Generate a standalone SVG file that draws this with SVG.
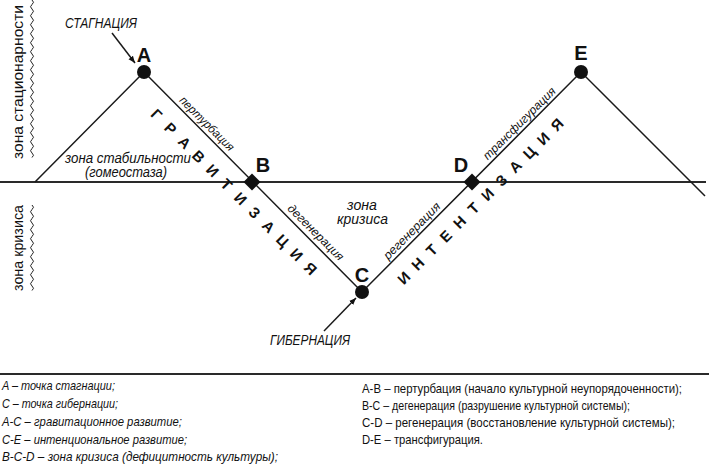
<svg xmlns="http://www.w3.org/2000/svg" width="709" height="465" viewBox="0 0 709 465">
<style>
text{font-family:"Liberation Sans",Arial,sans-serif;fill:#111}
.ln{stroke:#1a1a1a;stroke-width:1.5;fill:none}
.hz{stroke:#2a2a2a;stroke-width:2;fill:none}
.wv{stroke:#222;stroke-width:1;fill:none}
.pt{font-size:20px;font-weight:bold;text-anchor:middle}
.it{font-style:italic}
.sm{font-size:12px;font-style:italic}
.big{font-size:15px;font-weight:bold;text-anchor:middle}
.lg{font-size:13px}
.dot{fill:#111}
</style>
<defs>
<marker id="ah" viewBox="0 0 10 10" refX="10" refY="5" markerWidth="7" markerHeight="7" orient="auto" markerUnits="userSpaceOnUse">
<path d="M0,1 L10,5 L0,9 z" fill="#111"/>
</marker>
</defs>
<rect width="709" height="465" fill="#fff"/>

<g id="connectors">
<line class="hz" x1="0" y1="182" x2="706" y2="182"/>
<polyline class="ln" points="35,182 144,72 362,292 581,72 705,196"/>
<line class="ln" x1="112" y1="33" x2="135" y2="63" marker-end="url(#ah)" stroke-width="1"/>
<line class="ln" x1="324" y1="331" x2="356" y2="298" marker-end="url(#ah)" stroke-width="1"/>
<line class="hz" x1="0" y1="374" x2="709" y2="374"/>
</g>

<g id="zones">
<path class="wv" d="M32,0 q3,2.25 0,4.5 t0,4.5 t0,4.5 t0,4.5 t0,4.5 t0,4.5 t0,4.5 t0,4.5 t0,4.5 t0,4.5 t0,4.5 t0,4.5 t0,4.5 t0,4.5 t0,4.5 t0,4.5 t0,4.5 t0,4.5 t0,4.5 t0,4.5 t0,4.5 t0,4.5 t0,4.5 t0,4.5 t0,4.5 t0,4.5 t0,4.5 t0,4.5 t0,4.5 t0,4.5 t0,4.5 t0,4.5 t0,4.5 t0,4.5 t0,4.5"/>
<path class="wv" d="M32,205 q3,2.25 0,4.5 t0,4.5 t0,4.5 t0,4.5 t0,4.5 t0,4.5 t0,4.5 t0,4.5 t0,4.5 t0,4.5 t0,4.5 t0,4.5 t0,4.5 t0,4.5 t0,4.5 t0,4.5 t0,4.5 t0,4.5 t0,4.5"/>
<text transform="translate(23,159) rotate(-90)" font-size="15" textLength="154" lengthAdjust="spacingAndGlyphs">зона стационарности</text>
<text transform="translate(23,291) rotate(-90)" font-size="14" textLength="86" lengthAdjust="spacingAndGlyphs">зона кризиса</text>
<text class="it" x="65" y="163" font-size="14" textLength="126" lengthAdjust="spacingAndGlyphs">зона стабильности</text>
<text class="it" x="85" y="177" font-size="14" textLength="82" lengthAdjust="spacingAndGlyphs">(гомеостаза)</text>
<text class="it" x="347" y="210" font-size="14" textLength="30" lengthAdjust="spacingAndGlyphs">зона</text>
<text class="it" x="337" y="224" font-size="14" textLength="51" lengthAdjust="spacingAndGlyphs">кризиса</text>
<text class="it" x="65" y="28" font-size="14" textLength="72" lengthAdjust="spacingAndGlyphs">СТАГНАЦИЯ</text>
<text class="it" x="270" y="345" font-size="14" textLength="80" lengthAdjust="spacingAndGlyphs">ГИБЕРНАЦИЯ</text>
</g>

<g id="gravitization" transform="translate(144,72) rotate(45)">
<text class="sm" x="45" y="-4" textLength="72" lengthAdjust="spacingAndGlyphs">пертурбация</text>
<text class="sm" x="198" y="-4" textLength="74" lengthAdjust="spacingAndGlyphs">дегенерация</text>
<text class="big" x="39 58.8 78.6 98.4 118.2 138 157.8 177.6 197.4 217.2 237 256.8" y="26.5">ГРАВИТИЗАЦИЯ</text>
</g>

<g id="intentization" transform="translate(362,292) rotate(-45)">
<text class="sm" x="41" y="-4" textLength="75" lengthAdjust="spacingAndGlyphs">регенерация</text>
<text class="sm" x="182" y="-4" textLength="97" lengthAdjust="spacingAndGlyphs">трансфигурация</text>
<text class="big" x="39.6 59.3 79 98.7 118.4 138.1 157.8 177.5 197.2 216.9 236.6 256.3" y="25">ИНТЕНТИЗАЦИЯ</text>
</g>

<g id="nodeA"><circle class="dot" cx="144" cy="72" r="7"/><text class="pt" x="144" y="62">A</text></g>
<g id="nodeB"><rect class="dot" x="246" y="176" width="12" height="12" transform="rotate(45 252 182)"/><text class="pt" x="263" y="172">B</text></g>
<g id="nodeC"><circle class="dot" cx="362" cy="292" r="7"/><text class="pt" x="362" y="282">C</text></g>
<g id="nodeD"><rect class="dot" x="466" y="176" width="12" height="12" transform="rotate(45 472 182)"/><text class="pt" x="461" y="172">D</text></g>
<g id="nodeE"><circle class="dot" cx="581" cy="72" r="7"/><text class="pt" x="581" y="60">E</text></g>

<g id="legend-left" class="lg it">
<text x="2" y="390" textLength="113" lengthAdjust="spacingAndGlyphs">A – точка стагнации;</text>
<text x="2" y="408" textLength="116" lengthAdjust="spacingAndGlyphs">C – точка гибернации;</text>
<text x="2" y="426" textLength="180" lengthAdjust="spacingAndGlyphs">A-C – гравитационное развитие;</text>
<text x="2" y="443.5" textLength="185" lengthAdjust="spacingAndGlyphs">C-E – интенциональное развитие;</text>
<text x="2" y="461" textLength="276" lengthAdjust="spacingAndGlyphs">B-C-D – зона кризиса (дефицитность культуры);</text>
</g>

<g id="legend-right" class="lg">
<text x="362" y="393" textLength="320" lengthAdjust="spacingAndGlyphs">A-B – пертурбация (начало культурной неупорядоченности);</text>
<text x="362" y="410" textLength="268" lengthAdjust="spacingAndGlyphs">B-C – дегенерация (разрушение культурной системы);</text>
<text x="362" y="427" textLength="313" lengthAdjust="spacingAndGlyphs">C-D – регенерация (восстановление культурной системы);</text>
<text x="362" y="444" textLength="121" lengthAdjust="spacingAndGlyphs">D-E – трансфигурация.</text>
</g>
</svg>
